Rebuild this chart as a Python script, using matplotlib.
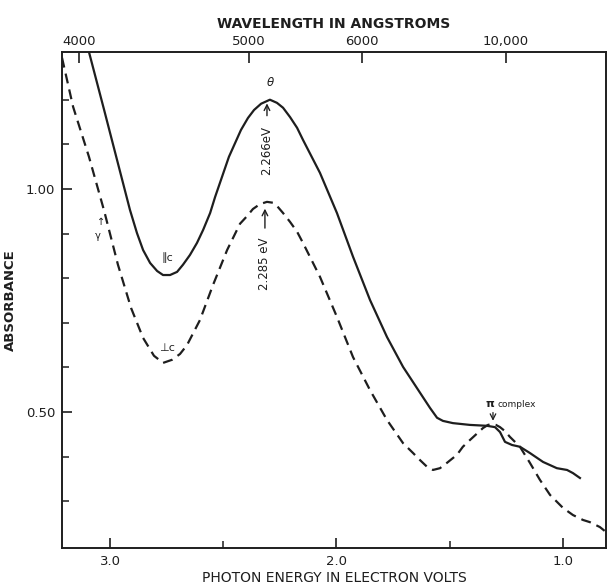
import matplotlib
matplotlib.use("Agg")
import matplotlib.pyplot as plt
from matplotlib.ticker import FixedLocator

# ---- data ----
par_E = [3.093, 3.026, 2.969, 2.912, 2.881, 2.854, 2.823, 2.792, 2.766, 2.735,
         2.704, 2.678, 2.647, 2.616, 2.589, 2.558, 2.536, 2.475, 2.422, 2.391,
         2.364, 2.333, 2.294, 2.263, 2.236, 2.205, 2.174, 2.148, 2.073, 1.998,
         1.927, 1.852, 1.777, 1.706, 1.631, 1.587, 1.556, 1.530, 1.486, 1.411,
         1.336, 1.300, 1.278, 1.256, 1.225, 1.190, 1.146, 1.088, 1.027, 0.982,
         0.956, 0.925]
par_A = [1.307, 1.177, 1.065, 0.953, 0.901, 0.863, 0.834, 0.816, 0.807, 0.807,
         0.814, 0.830, 0.852, 0.879, 0.908, 0.946, 0.982, 1.072, 1.132, 1.159,
         1.177, 1.191, 1.200, 1.193, 1.182, 1.161, 1.137, 1.110, 1.036, 0.946,
         0.848, 0.751, 0.668, 0.601, 0.543, 0.509, 0.487, 0.480, 0.475, 0.471,
         0.469, 0.466, 0.455, 0.433, 0.426, 0.422, 0.408, 0.388, 0.374, 0.370,
         0.363, 0.352]

perp_E = [3.212, 3.163, 3.093, 3.026, 2.965, 2.907, 2.854, 2.806, 2.766, 2.726,
          2.691, 2.660, 2.603, 2.545, 2.483, 2.426, 2.395, 2.369, 2.338, 2.307,
          2.280, 2.263, 2.236, 2.205, 2.174, 2.148, 2.073, 1.998, 1.927, 1.852,
          1.777, 1.706, 1.662, 1.631, 1.600, 1.574, 1.543, 1.512, 1.468, 1.442,
          1.411, 1.353, 1.331, 1.313, 1.296, 1.278, 1.256, 1.234, 1.190, 1.146,
          1.102, 1.057, 1.000, 0.956, 0.912, 0.881, 0.837, 0.810]
perp_A = [1.294, 1.184, 1.072, 0.951, 0.830, 0.733, 0.666, 0.626, 0.610, 0.617,
          0.630, 0.650, 0.706, 0.785, 0.863, 0.922, 0.939, 0.955, 0.966, 0.971,
          0.969, 0.962, 0.946, 0.926, 0.904, 0.879, 0.803, 0.713, 0.623, 0.549,
          0.482, 0.430, 0.408, 0.392, 0.377, 0.370, 0.374, 0.386, 0.404, 0.422,
          0.437, 0.464, 0.471, 0.473, 0.471, 0.466, 0.457, 0.444, 0.422, 0.386,
          0.348, 0.314, 0.285, 0.269, 0.258, 0.253, 0.242, 0.231]

energy_major = [3.0, 2.0, 1.0]
energy_labels = ["3.0", "2.0", "1.0"]
energy_minor = [2.5, 1.5]
abs_major = [1.00, 0.50]
abs_labels = ["1.00", "0.50"]
abs_minor = [0.3, 0.4, 0.6, 0.7, 0.8, 0.9, 1.1, 1.2]
wl_tick_E = [3.137, 2.386, 1.887, 1.252]
wl_labels = ["4000", "5000", "6000", "10,000"]

ink = "#1e1e1e"
plt.rcParams['font.family'] = ['DejaVu Sans']

fig = plt.figure(figsize=(6.08, 5.86), dpi=100)
ax = fig.add_axes([0.102, 0.0648, 0.8947, 0.8465])

ax.plot(par_E, par_A, color=ink, lw=1.6, solid_joinstyle='round')
ax.plot(perp_E, perp_A, color=ink, lw=1.6, ls=(0, (4.5, 2.8)), dash_joinstyle='round')

ax.set_xlim(3.212, 0.810)
ax.set_ylim(0.195, 1.307)

for s in ax.spines.values():
    s.set_color(ink)
    s.set_linewidth(1.4)

ax.xaxis.set_major_locator(FixedLocator(energy_major))
ax.set_xticklabels(energy_labels)
ax.xaxis.set_minor_locator(FixedLocator(energy_minor))
ax.yaxis.set_major_locator(FixedLocator(abs_major))
ax.set_yticklabels(abs_labels)
ax.yaxis.set_minor_locator(FixedLocator(abs_minor))
ax.tick_params(which='major', direction='in', length=7, width=1.2, color=ink,
               labelsize=9.5, labelcolor=ink, pad=5)
ax.tick_params(which='minor', direction='in', length=5, width=1.1, color=ink)

ax.set_xlabel("PHOTON ENERGY IN ELECTRON VOLTS", fontsize=10, color=ink, labelpad=2)
ax.set_ylabel("ABSORBANCE", fontsize=9.5, fontweight='bold', color=ink)
ax.yaxis.set_label_coords(-0.083, 0.5)

top = ax.twiny()
top.set_xlim(ax.get_xlim())
top.xaxis.set_major_locator(FixedLocator(wl_tick_E))
top.set_xticklabels(wl_labels)
top.tick_params(direction='in', length=8, width=1.2, color=ink, labelsize=9.5,
                labelcolor=ink, pad=3)
top.set_xlabel("WAVELENGTH IN ANGSTROMS", fontsize=10, fontweight='bold',
               color=ink, labelpad=5)
for s in top.spines.values():
    s.set_visible(False)

# annotations
ax.text(2.294, 1.238, "θ", fontsize=8.5, style='italic', ha='center', va='center', color=ink)
ax.text(2.307, 1.031, "2.266eV", rotation=90, fontsize=8.5, ha='center', va='bottom', color=ink)
ax.annotate("", xy=(2.307, 1.198), xytext=(2.307, 1.158),
            arrowprops=dict(arrowstyle='->', color=ink, lw=1.0))
ax.text(2.316, 0.774, "2.285 eV", rotation=90, fontsize=8.5, ha='center', va='bottom', color=ink)
ax.annotate("", xy=(2.316, 0.962), xytext=(2.316, 0.906),
            arrowprops=dict(arrowstyle='->', color=ink, lw=1.0))
ax.text(2.748, 0.845, "∥c", fontsize=8, ha='center', va='center', color=ink)
ax.text(2.748, 0.643, "⊥c", fontsize=8, ha='center', va='center', color=ink)
ax.text(3.040, 0.926, "↑", fontsize=7, ha='center', va='center', color=ink)
ax.text(3.053, 0.895, "γ", fontsize=7, ha='center', va='center', color=ink)
ax.text(1.322, 0.518, "π", fontsize=8, fontweight='bold', ha='center', va='center', color=ink)
ax.text(1.287, 0.516, "complex", fontsize=6.5, ha='left', va='center', color=ink)
ax.annotate("", xy=(1.309, 0.474), xytext=(1.309, 0.505),
            arrowprops=dict(arrowstyle='->', color=ink, lw=0.9))

fig.savefig("out.png", dpi=100)
